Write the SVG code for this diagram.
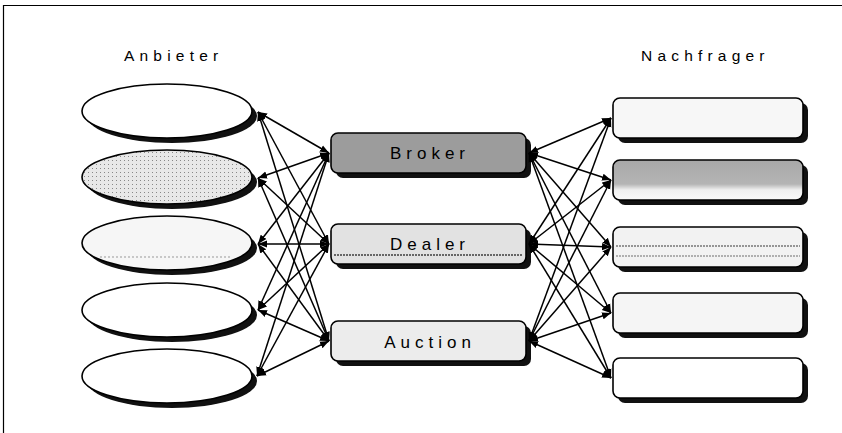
<svg xmlns="http://www.w3.org/2000/svg" width="842" height="433" viewBox="0 0 842 433">
<defs>
<marker id="ah" viewBox="0 0 10 10" refX="10" refY="5" markerWidth="9" markerHeight="9" markerUnits="userSpaceOnUse" orient="auto-start-reverse">
<path d="M0,1 L10,5 L0,9 Z" fill="#000"/>
</marker>
<linearGradient id="g2" x1="0" y1="0" x2="0" y2="1">
<stop offset="0" stop-color="#a8a8a8"/><stop offset="0.6" stop-color="#b4b4b4"/><stop offset="0.75" stop-color="#f0f0f0"/><stop offset="1" stop-color="#fafafa"/>
</linearGradient>
<pattern id="dots" width="4" height="4" patternUnits="userSpaceOnUse"><rect width="4" height="4" fill="#e8e8e8"/><rect width="1" height="1" fill="#888"/></pattern>
</defs>
<style>
.lbl{font-family:"Liberation Sans",Arial,sans-serif;font-size:15.5px;letter-spacing:5.2px;fill:#000}
.blbl{font-family:"Liberation Sans",Arial,sans-serif;font-size:17px;letter-spacing:5px;fill:#000;text-anchor:middle}
.sh{fill:#111}
.box{stroke:#000;stroke-width:1.6}
.ell{stroke:#000;stroke-width:1.6}
.con line{stroke:#000;stroke-width:1.5;marker-start:url(#ah);marker-end:url(#ah)}
</style>
<rect width="842" height="433" fill="#fff"/>
<path d="M3.5,433 V5.5 H842" fill="none" stroke="#000" stroke-width="1.2"/>
<text class="lbl" x="124" y="61">Anbieter</text>
<text class="lbl" x="641" y="61">Nachfrager</text>
<g id="anbieter1"><ellipse class="sh" cx="172" cy="116" rx="85" ry="27"/><ellipse class="ell" cx="167" cy="111" rx="85" ry="27" fill="#fff"/></g>
<g id="anbieter2"><ellipse class="sh" cx="172" cy="182" rx="85" ry="27"/><ellipse class="ell" cx="167" cy="177" rx="85" ry="27" fill="url(#dots)"/></g>
<g id="anbieter3"><ellipse class="sh" cx="172" cy="248" rx="85" ry="27"/><ellipse class="ell" cx="167" cy="243" rx="85" ry="27" fill="#f6f6f6"/><line x1="100" y1="257" x2="232" y2="257" stroke="#999" stroke-dasharray="2 2"/></g>
<g id="anbieter4"><ellipse class="sh" cx="172" cy="315" rx="85" ry="27"/><ellipse class="ell" cx="167" cy="310" rx="85" ry="27" fill="#fff"/></g>
<g id="anbieter5"><ellipse class="sh" cx="172" cy="381" rx="85" ry="27"/><ellipse class="ell" cx="167" cy="376" rx="85" ry="27" fill="#fff"/></g>
<g id="broker"><rect class="sh" x="336" y="138" width="195" height="40" rx="7"/><rect class="box" x="331" y="133" width="195" height="40" rx="7" fill="#9c9c9c"/><text class="blbl" x="430" y="159">Broker</text></g>
<g id="dealer"><rect class="sh" x="336" y="229" width="195" height="40" rx="7"/><rect class="box" x="331" y="224" width="195" height="40" rx="7" fill="#e2e2e2"/><line x1="334" y1="255" x2="523" y2="255" stroke="#666" stroke-width="2" stroke-dasharray="2 1"/><text class="blbl" x="430" y="250">Dealer</text></g>
<g id="auction"><rect class="sh" x="336" y="326" width="195" height="40" rx="7"/><rect class="box" x="331" y="321" width="195" height="40" rx="7" fill="#ececec"/><text class="blbl" x="430" y="348">Auction</text></g>
<g id="nachfrager1"><rect class="sh" x="618" y="103" width="190" height="40" rx="7"/><rect class="box" x="613" y="98" width="190" height="40" rx="7" fill="#f7f7f7"/></g>
<g id="nachfrager2"><rect class="sh" x="618" y="165" width="190" height="40" rx="7"/><rect class="box" x="613" y="160" width="190" height="40" rx="7" fill="url(#g2)"/></g>
<g id="nachfrager3"><rect class="sh" x="618" y="232" width="190" height="40" rx="7"/><rect class="box" x="613" y="227" width="190" height="40" rx="7" fill="#f2f2f2"/><line x1="616" y1="246" x2="800" y2="246" stroke="#777" stroke-width="1.5" stroke-dasharray="2 1"/><line x1="616" y1="256" x2="800" y2="256" stroke="#999" stroke-width="1.5" stroke-dasharray="2 1"/></g>
<g id="nachfrager4"><rect class="sh" x="618" y="298" width="190" height="40" rx="7"/><rect class="box" x="613" y="293" width="190" height="40" rx="7" fill="#f5f5f5"/></g>
<g id="nachfrager5"><rect class="sh" x="618" y="363" width="190" height="40" rx="7"/><rect class="box" x="613" y="358" width="190" height="40" rx="7" fill="#fff"/></g>
<g class="con" id="connectors">
<line x1="258" y1="112" x2="329" y2="153"/><line x1="258" y1="112" x2="329" y2="244"/><line x1="258" y1="112" x2="329" y2="341"/>
<line x1="258" y1="178" x2="329" y2="153"/><line x1="258" y1="178" x2="329" y2="244"/><line x1="258" y1="178" x2="329" y2="341"/>
<line x1="258" y1="244" x2="329" y2="153"/><line x1="258" y1="244" x2="329" y2="244"/><line x1="258" y1="244" x2="329" y2="341"/>
<line x1="258" y1="310" x2="329" y2="153"/><line x1="258" y1="310" x2="329" y2="244"/><line x1="258" y1="310" x2="329" y2="341"/>
<line x1="257" y1="376" x2="329" y2="153"/><line x1="257" y1="376" x2="329" y2="244"/><line x1="257" y1="376" x2="329" y2="341"/>
<line x1="529" y1="153" x2="611" y2="118"/><line x1="529" y1="153" x2="611" y2="180"/><line x1="529" y1="153" x2="611" y2="247"/><line x1="529" y1="153" x2="611" y2="313"/><line x1="529" y1="153" x2="611" y2="378"/>
<line x1="529" y1="244" x2="611" y2="118"/><line x1="529" y1="244" x2="611" y2="180"/><line x1="529" y1="244" x2="611" y2="247"/><line x1="529" y1="244" x2="611" y2="313"/><line x1="529" y1="244" x2="611" y2="378"/>
<line x1="529" y1="341" x2="611" y2="118"/><line x1="529" y1="341" x2="611" y2="180"/><line x1="529" y1="341" x2="611" y2="247"/><line x1="529" y1="341" x2="611" y2="313"/><line x1="529" y1="341" x2="611" y2="378"/>
</g>
</svg>
